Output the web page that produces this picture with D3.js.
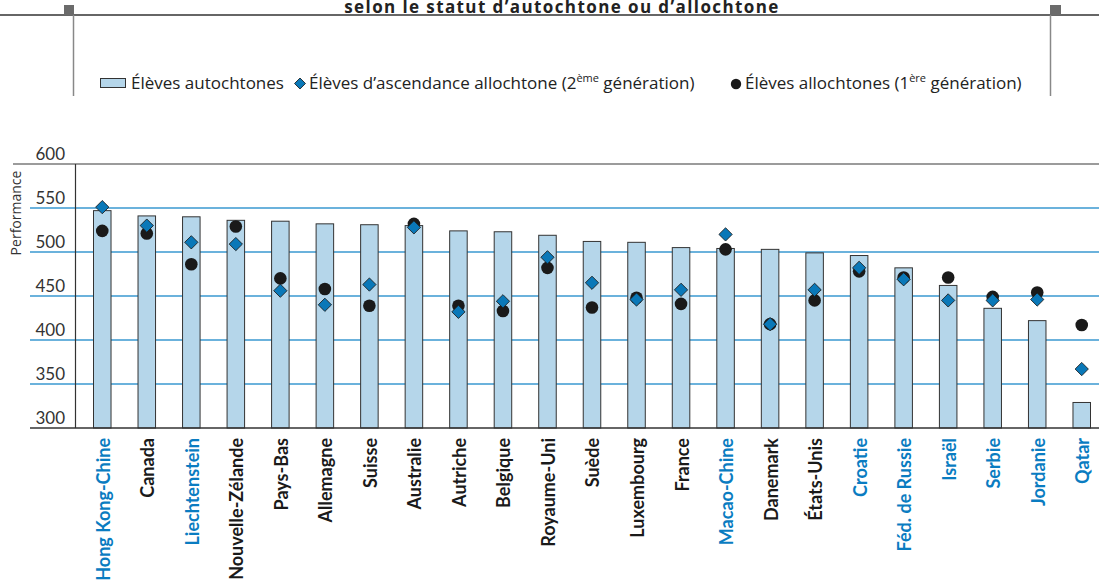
<!DOCTYPE html>
<html><head><meta charset="utf-8">
<script src="https://cdn.jsdelivr.net/npm/d3@7"></script>
<style>
html,body{margin:0;padding:0;background:#fff;}
svg{display:block;font-family:Lato,"Open Sans",sans-serif;}
</style></head>
<body>
<svg id="c" width="1099" height="582"></svg>
<script>
const countries = ["Hong Kong-Chine","Canada","Liechtenstein","Nouvelle-Zélande","Pays-Bas","Allemagne","Suisse","Australie","Autriche","Belgique","Royaume-Uni","Suède","Luxembourg","France","Macao-Chine","Danemark","États-Unis","Croatie","Féd. de Russie","Israël","Serbie","Jordanie","Qatar"];
const partner = [true,false,true,false,false,false,false,false,false,false,false,false,false,false,true,false,false,true,true,true,true,true,true];
const nativeStudents = [547,541,540,536,535,532,531,530,524,523,519,512,511,505,504,503,499,496,482,462,436,422,329];
const secondGen = [551,530,511,509,456,440,463,528,432,444,494,465,446,457,520,418,457,482,469,445,445,446,367];
const firstGen = [524,521,486,529,470,458,439,532,439,433,482,437,448,441,503,418,445,478,471,471,449,454,417];
const yTicks = [300,350,400,450,500,550,600];

const svg = d3.select("#c");
const y = d3.scaleLinear().domain([300,600]).range([428,164]);
const x = d3.scaleBand().domain(countries).range([80,1104]).paddingInner(0.584).paddingOuter(0.292);
const OS = "'Open Sans',Lato,sans-serif";

// Title
svg.append("text").attr("x",562).attr("y",13).attr("text-anchor","middle")
  .attr("font-family",OS).attr("font-weight","bold").attr("font-size",17).attr("letter-spacing",1.4).attr("fill","#222")
  .text("selon le statut d’autochtone ou d’allochtone");

// Frame lines
svg.append("line").attr("x1",0).attr("x2",1099).attr("y1",15).attr("y2",15).attr("stroke","#666").attr("stroke-width",2);
svg.append("rect").attr("x",64).attr("y",5).attr("width",10).attr("height",10).attr("fill","#6b6b6b");
svg.append("rect").attr("x",1050).attr("y",5).attr("width",11).attr("height",10).attr("fill","#6b6b6b");
svg.append("line").attr("x1",73.5).attr("x2",73.5).attr("y1",15).attr("y2",96).attr("stroke","#888").attr("stroke-width",1.5);
svg.append("line").attr("x1",1050.5).attr("x2",1050.5).attr("y1",15).attr("y2",96).attr("stroke","#888").attr("stroke-width",1.5);

// Legend
const lg = svg.append("g").attr("font-family",OS);
lg.append("rect").attr("x",100.5).attr("y",78.5).attr("width",25).attr("height",9).attr("fill","#b5d6ea").attr("stroke","#333").attr("stroke-width",1);
lg.append("text").attr("x",131).attr("y",89).attr("font-size",17).attr("fill","#222").text("Élèves autochtones");
lg.append("path").attr("d",d3.symbol(d3.symbolSquare,60)()).attr("transform","translate(300,83.5) rotate(45)").attr("fill","#0a78b8").attr("stroke","#1a1a1a").attr("stroke-width",0.8);
const t2 = lg.append("text").attr("x",309).attr("y",89).attr("font-size",17).attr("fill","#222");
t2.append("tspan").text("Élèves d’ascendance allochtone (2");
t2.append("tspan").attr("font-size",11).attr("dy",-7).text("ème");
t2.append("tspan").attr("dy",7).text(" génération)");
lg.append("circle").attr("cx",736).attr("cy",84).attr("r",5.2).attr("fill","#1a1a1a");
const t3 = lg.append("text").attr("x",745).attr("y",89).attr("font-size",17).attr("fill","#222");
t3.append("tspan").text("Élèves allochtones (1");
t3.append("tspan").attr("font-size",11).attr("dy",-7).text("ère");
t3.append("tspan").attr("dy",7).text(" génération)");

// Gridlines
yTicks.filter(v=>v>300 && v<600).forEach(v=>{
  svg.append("line").attr("x1",30).attr("x2",1099).attr("y1",y(v)).attr("y2",y(v)).attr("stroke","#3a98d0").attr("stroke-width",1.5);
});
svg.append("line").attr("x1",13).attr("x2",1099).attr("y1",y(600)).attr("y2",y(600)).attr("stroke","#7a7a7a").attr("stroke-width",1.5);

// Y tick labels
svg.append("g").selectAll("text").data(yTicks).join("text")
  .attr("x",65).attr("y",d=>y(d)-4).attr("text-anchor","end")
  .attr("font-size",17).attr("fill","#333").text(d=>d);

svg.append("text").attr("transform","translate(21,213) rotate(-90)").attr("text-anchor","middle")
  .attr("font-family",OS).attr("font-size",14).attr("fill","#333").text("Performance");

// Bars
svg.append("g").selectAll("rect").data(countries).join("rect")
  .attr("x",d=>x(d)+0.5).attr("width",x.bandwidth()-1)
  .attr("y",(d,i)=>y(nativeStudents[i])).attr("height",(d,i)=>y(300)-y(nativeStudents[i]))
  .attr("fill","#b5d6ea").attr("stroke","#333").attr("stroke-width",1);

// Axes lines
svg.append("line").attr("x1",30).attr("x2",1099).attr("y1",428).attr("y2",428).attr("stroke","#333").attr("stroke-width",1.5);
svg.append("line").attr("x1",75.5).attr("x2",75.5).attr("y1",y(600)).attr("y2",428).attr("stroke","#333").attr("stroke-width",1.2);

// Markers
svg.append("g").selectAll("circle").data(countries).join("circle")
  .attr("cx",d=>x(d)+x.bandwidth()/2).attr("cy",(d,i)=>y(firstGen[i])).attr("r",6.3).attr("fill","#1a1a1a");
svg.append("g").selectAll("path").data(countries).join("path")
  .attr("d",d3.symbol(d3.symbolSquare,88)())
  .attr("transform",(d,i)=>`translate(${x(d)+x.bandwidth()/2},${y(secondGen[i])}) rotate(45)`)
  .attr("fill","#0a78b8").attr("stroke","#1a1a1a").attr("stroke-width",0.8);

// Country labels
svg.append("g").selectAll("text").data(countries).join("text")
  .attr("transform",d=>`translate(${x(d)+x.bandwidth()/2+1},438) rotate(-90)`)
  .attr("text-anchor","end").attr("dy","0.36em")
  .attr("font-size",18).attr("font-weight","bold")
  .attr("fill",(d,i)=>partner[i]?"#0a7cc1":"#1a1a1a").text(d=>d);
</script>
</body></html>
